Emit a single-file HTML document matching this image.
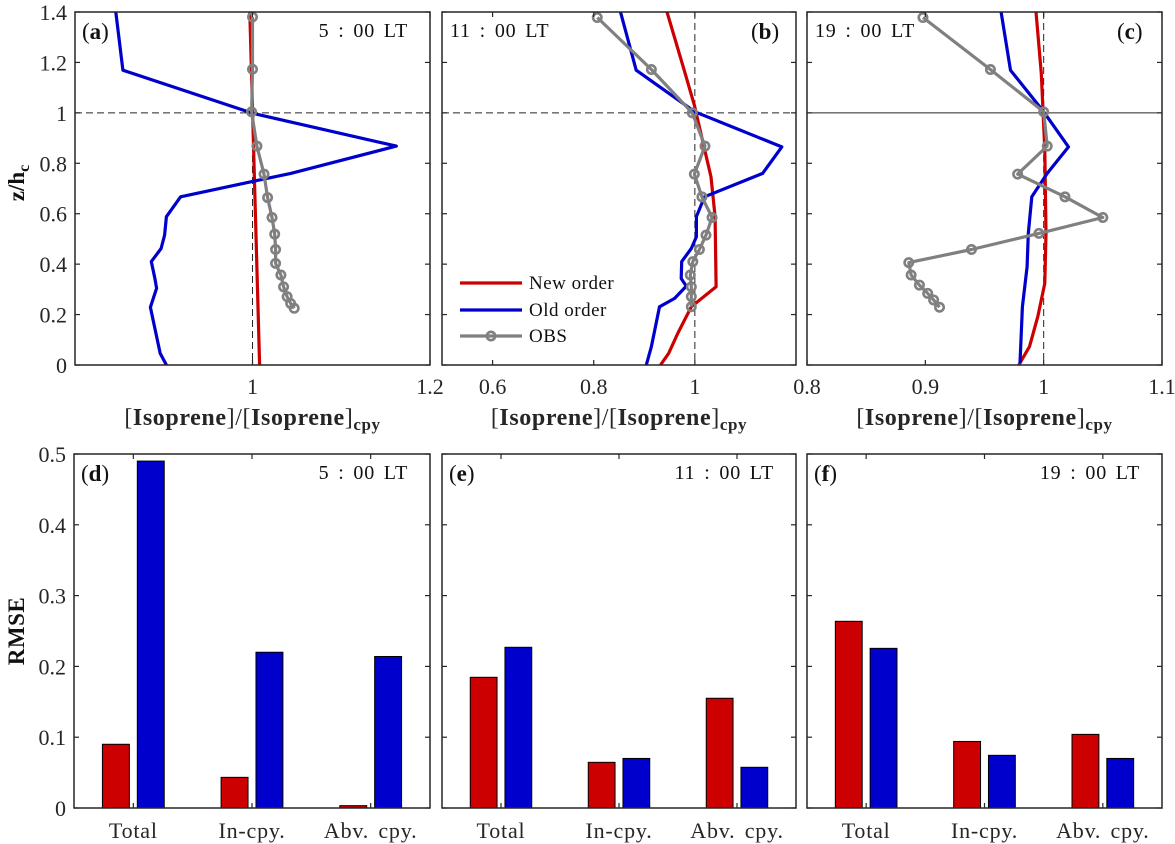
<!DOCTYPE html>
<html><head><meta charset="utf-8">
<style>
html,body{margin:0;padding:0;background:#fff;}
svg{display:block;font-family:"Liberation Serif",serif;}
</style></head>
<body>
<svg id="fig" width="1175" height="844" viewBox="0 0 1175 844" xmlns="http://www.w3.org/2000/svg"></svg>
<script>
// ---- Profile data (top panels) ----
const aNewX=[0.997,1.008];
const aNewZ=[1.4,0];
const aOldX=[0.846,0.854,1.0015,1.162,1.043,1.0015,0.919,0.903,0.901,0.897,0.886,0.890,0.892,0.885,0.896,0.903];
const aOldZ=[1.4,1.169,0.997,0.868,0.76,0.729,0.667,0.588,0.515,0.462,0.41,0.343,0.304,0.229,0.046,0];
const aObsX=[1.0,1.0,0.999,1.005,1.013,1.017,1.022,1.025,1.026,1.026,1.032,1.035,1.039,1.043,1.047];
const aObsZ=[1.38,1.173,1.004,0.868,0.757,0.664,0.585,0.519,0.458,0.403,0.357,0.31,0.271,0.244,0.225];

const bNewX=[0.945,0.979,0.999,1.012,1.032,1.040,1.042,0.993,0.966,0.948,0.932];
const bNewZ=[1.4,1.169,1.03,0.918,0.746,0.588,0.31,0.231,0.125,0.046,0];
const bOldX=[0.853,0.884,1.0,1.172,1.134,1.019,1.003,1.003,0.993,0.974,0.973,0.983,0.96,0.930,0.914,0.904];
const bOldZ=[1.4,1.169,1.004,0.865,0.76,0.667,0.588,0.509,0.462,0.41,0.343,0.313,0.264,0.231,0.073,0];
const bObsX=[0.807,0.914,0.995,1.020,0.999,1.014,1.034,1.022,1.009,0.996,0.991,0.993,0.993,0.993];
const bObsZ=[1.378,1.172,1.0,0.868,0.757,0.667,0.585,0.515,0.458,0.41,0.357,0.31,0.271,0.231];

const cNewX=[0.9935,0.998,1.001,1.002,1.001,0.995,0.988,0.979];
const cNewZ=[1.4,1.156,0.852,0.522,0.324,0.192,0.073,0];
const cOldX=[0.964,0.972,1.0,1.021,1.003,0.990,0.987,0.986,0.982,0.980];
const cOldZ=[1.4,1.169,1.004,0.865,0.76,0.667,0.522,0.39,0.231,0.007];
const cObsX=[0.898,0.955,1.0,1.003,0.978,1.018,1.050,0.996,0.939,0.886,0.888,0.895,0.902,0.907,0.912];
const cObsZ=[1.378,1.172,1.004,0.868,0.757,0.667,0.585,0.522,0.458,0.406,0.357,0.317,0.284,0.258,0.229];

const zTicks=[0,0.2,0.4,0.6,0.8,1,1.2,1.4];
const zTickLabels=["0","0.2","0.4","0.6","0.8","1","1.2","1.4"];
const aXTicks=[1,1.2];
const bXTicks=[0.6,0.8,1];
const cXTicks=[0.8,0.9,1,1.1];

// ---- RMSE data (bottom panels) ----
const categories=["Total","In-cpy.","Abv. cpy."];
const dNew=[0.09,0.0433,0.0033];
const dOld=[0.49,0.22,0.214];
const eNew=[0.1846,0.0645,0.155];
const eOld=[0.227,0.070,0.0575];
const fNew=[0.2637,0.094,0.104];
const fOld=[0.2255,0.0744,0.070];
const rTicks=[0,0.1,0.2,0.3,0.4,0.5];
const rTickLabels=["0","0.1","0.2","0.3","0.4","0.5"];

const NS="http://www.w3.org/2000/svg";
const svg=document.getElementById('fig');
function mk(tag,attrs,parent){const e=document.createElementNS(NS,tag);for(const k in attrs)e.setAttribute(k,attrs[k]);(parent||svg).appendChild(e);return e;}
const RED="#cc0000",BLUE="#0000cc",GRAY="#808080",AX="#262626";
const TF=22;

function profilePanel(id,x0,x1,xmin,xmax,xticks,showY,series,letter,letterRight,time,solidH){
  const y0=12,y1=365;
  const g=mk('g',{});
  
  
  const sx=v=>x0+(v-xmin)/(xmax-xmin)*(x1-x0);
  const sy=v=>y1-(v/1.4)*(y1-y0);
  const h=mk('line',{x1:x0,x2:x1,y1:sy(1),y2:sy(1),stroke:AX,'stroke-width':1,'stroke-dasharray':solidH?'none':'7,4'},g);
  
  
  const v=mk('line',{x1:sx(1),x2:sx(1),y1:y0,y2:y1,stroke:AX,'stroke-width':1,'stroke-dasharray':'7,4'},g);
  
  
  const clipId='clip'+id;
  const cp=mk('clipPath',{id:clipId},g);mk('rect',{x:x0,y:y0,width:x1-x0,height:y1-y0},cp);
  const sg=mk('g',{'clip-path':'url(#'+clipId+')'},g);
  series.forEach(s=>{
    const pts=s.x.map((xv,i)=>sx(xv).toFixed(1)+','+sy(s.z[i]).toFixed(1)).join(' ');
    const pl=mk('polyline',{points:pts,fill:'none',stroke:s.color,'stroke-width':3.2,'stroke-linejoin':'round'},sg);
    
    
    if(s.markers){s.x.forEach((xv,i)=>{
      const c=mk('circle',{cx:sx(xv),cy:sy(s.z[i]),r:4.2,fill:'none',stroke:s.color,'stroke-width':2.6},sg);
      
      
    });}
  });
  const b=mk('rect',{x:x0,y:y0,width:x1-x0,height:y1-y0,fill:'none',stroke:AX,'stroke-width':1.5},g);
  
  
  zTicks.forEach((t,i)=>{
    mk('line',{x1:x0,x2:x0+5,y1:sy(t),y2:sy(t),stroke:AX,'stroke-width':1.2},g);
    mk('line',{x1:x1,x2:x1-5,y1:sy(t),y2:sy(t),stroke:AX,'stroke-width':1.2},g);
    if(showY){const tx=mk('text',{x:x0-8,y:sy(t)+8,'text-anchor':'end','font-size':TF,fill:AX},g);tx.textContent=zTickLabels[i];
      
      }
  });
  xticks.forEach(t=>{
    mk('line',{x1:sx(t),x2:sx(t),y1:y1,y2:y1-5,stroke:AX,'stroke-width':1.2},g);
    mk('line',{x1:sx(t),x2:sx(t),y1:y0,y2:y0+5,stroke:AX,'stroke-width':1.2},g);
    const tx=mk('text',{x:sx(t),y:394,'text-anchor':'middle','font-size':TF,fill:AX},g);tx.textContent=String(t);
    
    
  });
  const xl=mk('text',{x:(x0+x1)/2,y:425,'text-anchor':'middle','font-size':24,fill:AX,'letter-spacing':'0.6'},g);
  
  
  xl.innerHTML='[<tspan font-weight="bold">Isoprene</tspan>]/[<tspan font-weight="bold">Isoprene</tspan>]<tspan font-weight="bold" font-size="17" dy="5">cpy</tspan>';
  addLabels(g,x0,x1,y0,letter,letterRight,time);
}
function addLabels(g,x0,x1,y0,letter,letterRight,time){
  const lx=letterRight?x1-45:x0+7;
  const lt=mk('text',{x:lx,y:y0+27,'font-size':23,fill:'#111'},g);
  lt.innerHTML='(<tspan font-weight="bold">'+letter+'</tspan>)';
  
  
  const tt=mk('text',{x:letterRight?x0+8:x1-22,y:y0+25,'text-anchor':letterRight?'start':'end','font-size':20,fill:'#111','word-spacing':'3','letter-spacing':'0.8'},g);
  tt.textContent=time;
  
  
}

profilePanel('a',75,430,0.8,1.2,aXTicks,true,[
  {name:'new-order-line',x:aNewX,z:aNewZ,color:RED},
  {name:'old-order-line',x:aOldX,z:aOldZ,color:BLUE},
  {name:'obs-line',x:aObsX,z:aObsZ,color:GRAY,markers:true}],'a',false,'5 : 00 LT',false);
profilePanel('b',442,796,0.5,1.2,bXTicks,false,[
  {name:'new-order-line',x:bNewX,z:bNewZ,color:RED},
  {name:'old-order-line',x:bOldX,z:bOldZ,color:BLUE},
  {name:'obs-line',x:bObsX,z:bObsZ,color:GRAY,markers:true}],'b',true,'11 : 00 LT',false);
profilePanel('c',807,1162,0.8,1.1,cXTicks,false,[
  {name:'new-order-line',x:cNewX,z:cNewZ,color:RED},
  {name:'old-order-line',x:cOldX,z:cOldZ,color:BLUE},
  {name:'obs-line',x:cObsX,z:cObsZ,color:GRAY,markers:true}],'c',true,'19 : 00 LT',true);

(function(){
  const lg=mk('g',{});
  
  
  const items=[['New order',RED,false,283],['Old order',BLUE,false,310],['OBS',GRAY,true,336]];
  items.forEach(it=>{
    const e=mk('g',{},lg);
    
    
    mk('line',{x1:460,x2:522,y1:it[3],y2:it[3],stroke:it[1],'stroke-width':3.2},e);
    if(it[2])mk('circle',{cx:491,cy:it[3],r:4.2,fill:'none',stroke:it[1],'stroke-width':2.6},e);
    const t=mk('text',{x:529,y:it[3]+6,'font-size':19,fill:'#111','letter-spacing':'0.5'},e);t.textContent=it[0];
  });
})();

(function(){
  const t=mk('text',{transform:'translate(24,183) rotate(-90)','text-anchor':'middle','font-size':23,'font-weight':'bold',fill:'#111'});
  t.innerHTML='z/h<tspan font-size="16" dy="5">c</tspan>';
  
  
  const r=mk('text',{transform:'translate(24,631) rotate(-90)','text-anchor':'middle','font-size':23,'font-weight':'bold',fill:'#111','letter-spacing':'0.5'});
  r.textContent='RMSE';
  
  
})();

function barPanel(id,x0,x1,newV,oldV,showY,letter,time){
  const y0=454,y1=808;
  const g=mk('g',{});
  
  
  const sx=c=>x0+(c-0.5)/3*(x1-x0);
  const sy=v=>y1-v/0.5*(y1-y0);
  const unit=(x1-x0)/3, bw=0.227*unit, off=0.147*unit;
  categories.forEach((cat,i)=>{
    const cx=sx(i+1);
    const r=mk('rect',{x:cx-off-bw/2,y:sy(newV[i]),width:bw,height:y1-sy(newV[i]),fill:RED,stroke:'#000','stroke-width':1},g);
    
    
    const b=mk('rect',{x:cx+off-bw/2,y:sy(oldV[i]),width:bw,height:y1-sy(oldV[i]),fill:BLUE,stroke:'#000','stroke-width':1},g);
    
    
    mk('line',{x1:cx,x2:cx,y1:y1,y2:y1-5,stroke:AX,'stroke-width':1.2},g);
    mk('line',{x1:cx,x2:cx,y1:y0,y2:y0+5,stroke:AX,'stroke-width':1.2},g);
    const t=mk('text',{x:cx,y:838,'text-anchor':'middle','font-size':22,fill:AX,'letter-spacing':'0.8','word-spacing':'3'},g);t.textContent=cat;
    
    
  });
  const bx=mk('rect',{x:x0,y:y0,width:x1-x0,height:y1-y0,fill:'none',stroke:AX,'stroke-width':1.5},g);
  
  
  rTicks.forEach((t,i)=>{
    mk('line',{x1:x0,x2:x0+5,y1:sy(t),y2:sy(t),stroke:AX,'stroke-width':1.2},g);
    mk('line',{x1:x1,x2:x1-5,y1:sy(t),y2:sy(t),stroke:AX,'stroke-width':1.2},g);
    if(showY){const tx=mk('text',{x:x0-8,y:sy(t)+8,'text-anchor':'end','font-size':TF,fill:AX},g);tx.textContent=rTickLabels[i];
      
      }
  });
  addLabels(g,x0,x1,y0,letter,false,time);
}
barPanel('d',74,430,dNew,dOld,true,'d','5 : 00 LT');
barPanel('e',442,796,eNew,eOld,false,'e','11 : 00 LT');
barPanel('f',807,1162,fNew,fOld,false,'f','19 : 00 LT');
</script>
</body></html>
